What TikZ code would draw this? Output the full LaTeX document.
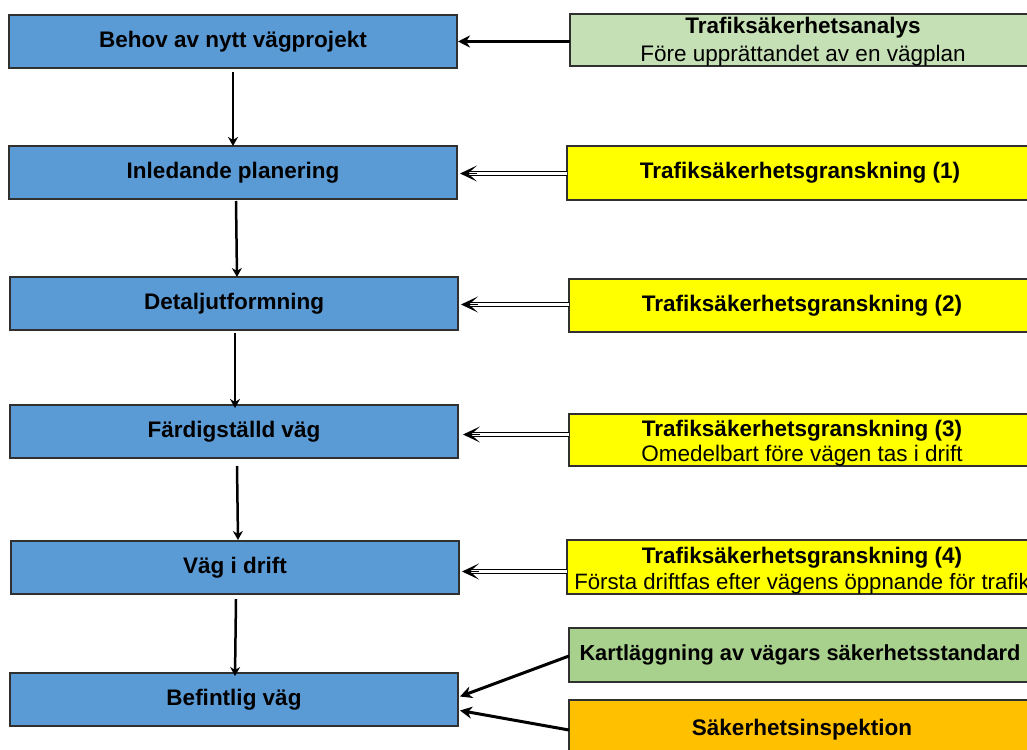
\documentclass[tikz,border=0pt]{standalone}
\usepackage{fontspec}
\setmainfont{Liberation Sans}
\usetikzlibrary{arrows.meta}
\definecolor{cblue}{HTML}{5B9BD5}
\definecolor{cgreenA}{HTML}{C5E0B4}
\definecolor{cgreenB}{HTML}{A9D18E}
\definecolor{cyellow}{HTML}{FFFF00}
\definecolor{corange}{HTML}{FFC000}
\definecolor{cedge}{HTML}{303030}
\newcommand{\bigf}{\fontsize{22.5}{28}\selectfont}
% #1 baselineskip, #2 vertical shift, #3 bold line, #4 normal line
\newcommand{\twolines}[4]{\raisebox{#2}[0pt][0pt]{\fontsize{22.5}{#1}\selectfont\begin{tabular}{@{}c@{}}\textbf{#3}\\#4\end{tabular}}}
\tikzset{
  box/.style={draw=cedge, line width=1.2pt, inner sep=0pt, outer sep=0pt, anchor=north west,
    font=\bigf, align=center},
  bluebox/.style={box, fill=cblue, minimum width=448pt, minimum height=53pt, font=\bigf\bfseries},
  rbox/.style={box, minimum width=466pt, minimum height=53pt},
  boldtxt/.style={font=\bigf\bfseries},
  varrow/.style={line width=2.5pt, -{Stealth[length=9pt,width=10pt]}},
  sarrow/.style={line width=3pt, -{Stealth[length=12pt,width=12pt]}},
  dline/.style={double=white, double distance=2.4pt, line width=1.2pt, shorten >=8pt},
  dtip/.style={line width=1.4pt, -{Stealth[length=17pt,width=16pt,inset=9pt]}},
}
\begin{document}
\begin{tikzpicture}[x=1pt,y=-1pt]
\useasboundingbox (0,0) rectangle (1027,749);
\clip (0,0) rectangle (1027,749);
% left column
\node[bluebox] (b1) at (9,15) {Behov av nytt vägprojekt};
\node[bluebox] (b2) at (9,146) {Inledande planering};
\node[bluebox] (b3) at (10,277) {Detaljutformning};
\node[bluebox] (b4) at (10,405) {Färdigställd väg};
\node[bluebox] (b5) at (11,541) {Väg i drift};
\node[bluebox] (b6) at (10,673) {Befintlig väg};
% right column
\node[rbox, fill=cgreenA, minimum height=52pt] (r1) at (570,14) {\twolines{28}{-7pt}{Trafiksäkerhetsanalys}{Före upprättandet av en vägplan}};
\node[rbox, fill=cyellow, minimum height=54pt, boldtxt] (r2) at (567,146) {Trafiksäkerhetsgranskning (1)};
\node[rbox, fill=cyellow, boldtxt] (r3) at (569,279) {Trafiksäkerhetsgranskning (2)};
\node[rbox, fill=cyellow, minimum height=52pt] (r4) at (569,414) {\twolines{25}{-9pt}{Trafiksäkerhetsgranskning (3)}{Omedelbart före vägen tas i drift}};
\node[rbox, fill=cyellow, minimum height=54pt, minimum width=470pt] (r5) at (567,540) {\twolines{26}{-9pt}{Trafiksäkerhetsgranskning (4)}{\fontsize{22.2}{26}\selectfont Första driftfas efter vägens öppnande för trafik}};
\node[rbox, fill=cgreenB, minimum height=54pt, minimum width=462pt, font=\fontsize{21.8}{26}\selectfont\bfseries] (r6) at (569,628) {Kartläggning av vägars säkerhetsstandard};
\node[rbox, fill=corange, minimum height=60pt, boldtxt] (r7) at (569,700) {\raisebox{6pt}{Säkerhetsinspektion}};
% vertical arrows
\draw[varrow] ([yshift=-4pt]b1.south) -- (b2.north);
\draw[varrow] ([xshift=3pt,yshift=-2pt]b2.south) -- ([xshift=3pt]b3.north);
\draw[varrow] ([xshift=1pt,yshift=-3pt]b3.south) -- ([xshift=1pt,yshift=-3pt]b4.north);
\draw[varrow] ([xshift=3pt,yshift=-8pt]b4.south) -- ([xshift=3pt,yshift=1pt]b5.north);
\draw[varrow] ([xshift=1pt,yshift=-5pt]b5.south) -- ([xshift=1pt,yshift=-3pt]b6.north);
% horizontal arrows
\draw[sarrow] (r1.west |- b1.east) -- ([xshift=1pt]b1.east);
\coordinate (t2) at ([xshift=3pt,yshift=-1pt]b2.east);
\coordinate (t3) at ([xshift=3pt,yshift=-1pt]b3.east);
\coordinate (t4) at ([xshift=5pt,yshift=-3pt]b4.east);
\coordinate (t5) at ([xshift=3pt,yshift=-4pt]b5.east);
\draw[dline] (r2.west |- t2) -- (t2);
\draw[dtip] ([xshift=17pt]t2) -- (t2);
\draw[dline] (r3.west |- t3) -- (t3);
\draw[dtip] ([xshift=17pt]t3) -- (t3);
\draw[dline] (r4.west |- t4) -- (t4);
\draw[dtip] ([xshift=17pt]t4) -- (t4);
\draw[dline] (r5.west |- t5) -- (t5);
\draw[dtip] ([xshift=17pt]t5) -- (t5);
\draw[sarrow] ([yshift=-1pt]r6.west) -- ([xshift=2pt,yshift=3pt]b6.east);
\draw[sarrow] (r7.west) -- ([xshift=2pt,yshift=-11pt]b6.east);
\end{tikzpicture}
\end{document}
